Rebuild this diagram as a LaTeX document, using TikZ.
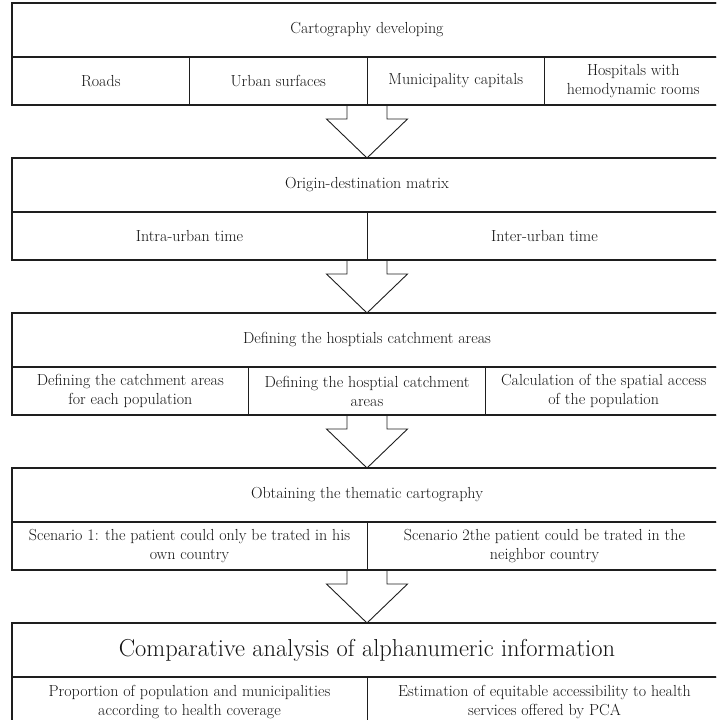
\documentclass[tikz,border=0pt]{standalone}
\definecolor{linegray}{RGB}{30,30,30}
\definecolor{textgray}{RGB}{20,20,20}
\usepackage{fontspec}
\usepackage{tikz}
\usetikzlibrary{positioning,calc}

\newcommand{\flowarrow}[2]{%
    \draw[arrowline] ($(#1)+(-20pt,0)$) |- ($(#2.north)+(-40.5pt,39pt)$) -- (#2.north)
        -- ($(#2.north)+(40.5pt,39pt)$) -| ($(#1)+(20pt,0)$);}

\begin{document}
\begin{tikzpicture}[x=1pt, y=-1pt,
        rowtitle/.style={draw=linegray, line width=1.1pt, minimum width=710pt, minimum height=54pt,
            inner sep=2pt, outer sep=0pt, text=textgray, font=\fontsize{16}{19}\selectfont},
        rowcell/.style={draw=linegray, line width=0.6pt, minimum height=48pt, inner sep=2pt,
            outer sep=0pt, align=center, text=textgray, font=\fontsize{16}{19}\selectfont},
        blockframe/.style={draw=linegray, line width=1.2pt},
        arrowline/.style={draw=linegray, line width=0.9pt}]
            \useasboundingbox (0,0) rectangle (716,720);
            \clip (0,0) rectangle (716,720);

            % cartography
            \node[rowtitle, anchor=north west] (carto) at (12,3) {Cartography developing};
            \node[rowcell, minimum width=177.5pt, anchor=north west] (roads) at (carto.south west) {Roads};
            \node[rowcell, minimum width=177.5pt, right=0pt of roads] (urban) {Urban surfaces};
            \node[rowcell, minimum width=177.5pt, right=0pt of urban] (capitals) {Municipality capitals};
            \node[rowcell, minimum width=177.5pt, right=0pt of capitals] (hospitals) {Hospitals with\\hemodynamic rooms};
            \draw[blockframe] (carto.north west) rectangle (hospitals.south east);
            \coordinate (cartobase) at (carto.south |- roads.south);

            % origin-destination
            \node[rowtitle, below=53pt of roads.south west, anchor=north west] (odm) {Origin-destination matrix};
            \node[rowcell, minimum width=355pt, anchor=north west] (intra) at (odm.south west) {Intra-urban time};
            \node[rowcell, minimum width=355pt, right=0pt of intra] (inter) {Inter-urban time};
            \draw[blockframe] (odm.north west) rectangle (inter.south east);
            \coordinate (odmbase) at (odm.south |- intra.south);

            % catchment areas
            \node[rowtitle, below=53pt of intra.south west, anchor=north west] (catchment) {Defining the hosptials catchment areas};
            \node[rowcell, minimum width=236.67pt, anchor=north west] (catchpop) at (catchment.south west) {Defining the catchment areas\\for each population};
            \node[rowcell, minimum width=236.67pt, right=0pt of catchpop] (catchhosp) {Defining the hosptial catchment\\areas};
            \node[rowcell, minimum width=236.67pt, right=0pt of catchhosp] (access) {Calculation of the spatial access\\of the population};
            \draw[blockframe] (catchment.north west) rectangle (access.south east);
            \coordinate (catchmentbase) at (catchment.south |- catchpop.south);

            % thematic cartography
            \node[rowtitle, below=53pt of catchpop.south west, anchor=north west] (thematic) {Obtaining the thematic cartography};
            \node[rowcell, minimum width=355pt, anchor=north west] (scenone) at (thematic.south west) {Scenario 1: the patient could only be trated in his\\own country};
            \node[rowcell, minimum width=355pt, right=0pt of scenone] (scentwo) {Scenario 2the patient could be trated in the\\neighbor country};
            \draw[blockframe] (thematic.north west) rectangle (scentwo.south east);
            \coordinate (thematicbase) at (thematic.south |- scenone.south);

            % alphanumeric analysis
            \node[rowtitle, font=\fontsize{24.5}{28}\selectfont, below=53pt of scenone.south west, anchor=north west] (analysis) {Comparative analysis of alphanumeric information};
            \node[rowcell, minimum width=355pt, minimum height=50pt, anchor=north west] (coverage) at (analysis.south west) {Proportion of population and municipalities\\according to health coverage};
            \node[rowcell, minimum width=355pt, minimum height=50pt, right=0pt of coverage] (equity) {Estimation of equitable accessibility to health\\services offered by PCA};
            \draw[blockframe] (analysis.north west) rectangle (equity.south east);

            \flowarrow{cartobase}{odm}
            \flowarrow{odmbase}{catchment}
            \flowarrow{catchmentbase}{thematic}
            \flowarrow{thematicbase}{analysis}
        \end{tikzpicture}
\end{document}
